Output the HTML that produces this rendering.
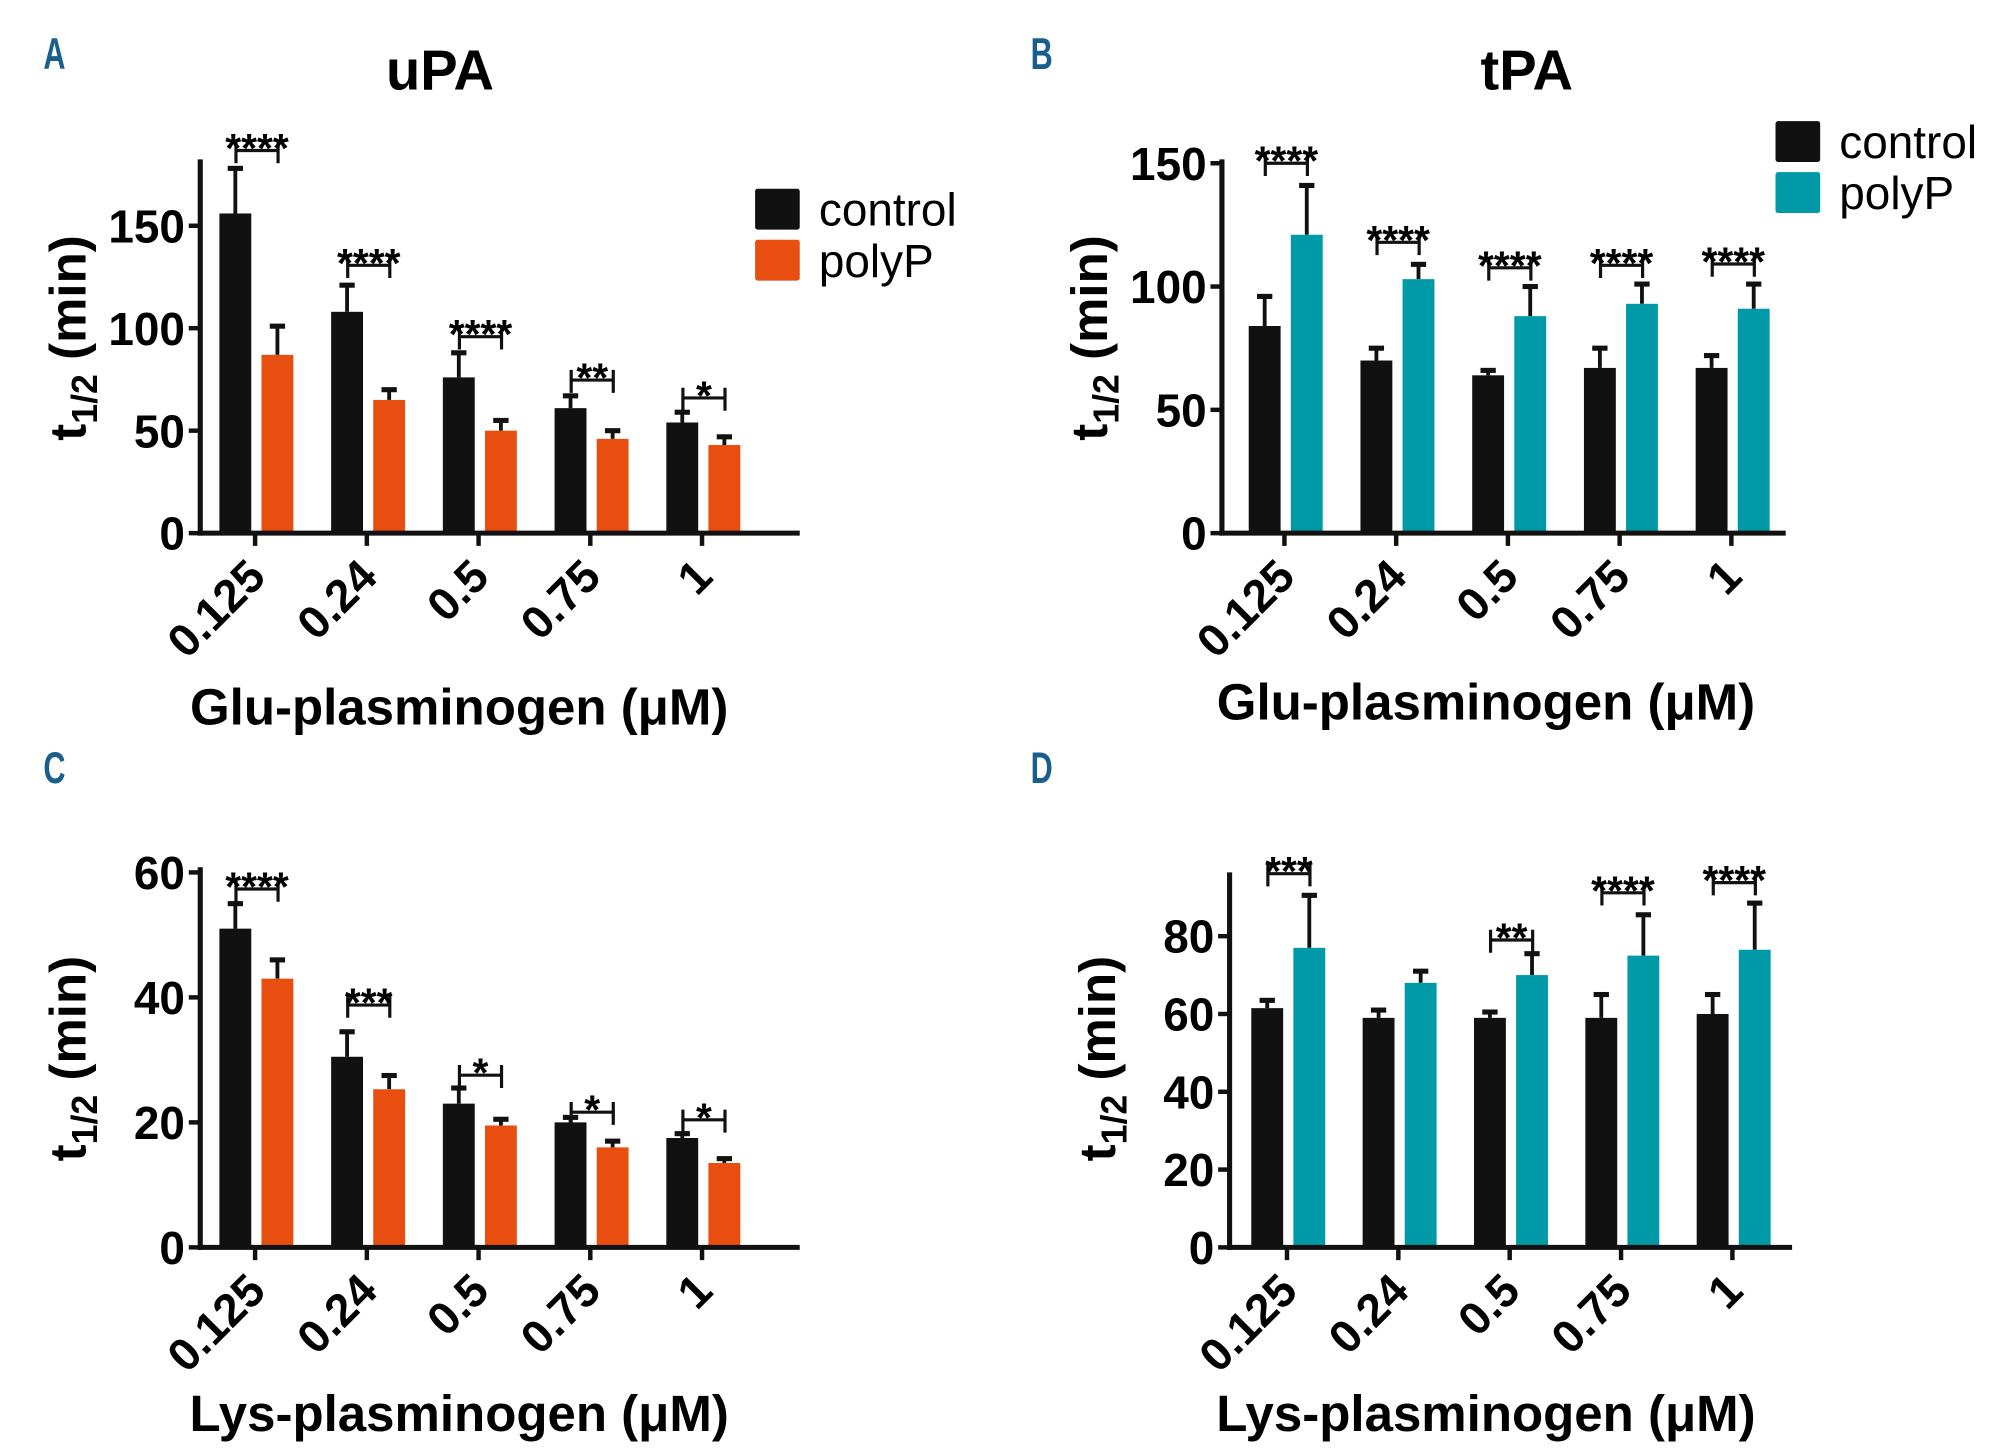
<!DOCTYPE html>
<html><head><meta charset="utf-8"><style>
html,body{margin:0;padding:0;background:#fff}
svg{display:block}
</style></head><body>
<svg id="fig" width="2000" height="1454" viewBox="0 0 1568 1140" preserveAspectRatio="none" xmlns="http://www.w3.org/2000/svg" font-family="Liberation Sans, sans-serif"></svg>
<script>
const categories = ["0.125","0.24","0.5","0.75","1"];
// Panel A (uPA, Glu)
const aControl = [156,108,76,61,54];
const aControlErr = [178,121,88,67,59];
const aPolyP = [87,65,50,46,43];
const aPolyPErr = [101,70,55,50,47];
const aSig = ["****","****","****","**","*"];
const aSigY = [118,208,264,298,312];
const aTicks = [0,50,100,150];
// Panel B (tPA, Glu)
const bControl = [84,70,64,67,67];
const bControlErr = [96,75,66,75,72];
const bPolyP = [121,103,88,93,91];
const bPolyPErr = [141,109,100,101,101];
const bSig = ["****","****","****","****","****"];
const bSigY = [128,190,210,208,207];
const bTicks = [0,50,100,150];
// Panel C (uPA, Lys)
const cControl = [51,30.5,23,20,17.5];
const cControlErr = [55,34.5,25.5,20.8,18.2];
const cPolyP = [43,25.3,19.5,16,13.5];
const cPolyPErr = [46,27.5,20.5,17,14.2];
const cSig = ["****","***","*","*","*"];
const cSigY = [697,788,843,872,878];
const cTicks = [0,20,40,60];
// Panel D (tPA, Lys)
const dControl = [61.5,59,59,59,60];
const dControlErr = [63.5,61,60.5,65,65];
const dPolyP = [77,68,70,75,76.5];
const dPolyPErr = [90.5,71,75.5,85.5,88.5];
const dSig = ["***","","**","****","****"];
const dSigY = [685,0,737,700,692];
const dTicks = [0,20,40,60,80];

const NS="http://www.w3.org/2000/svg";
const svg=document.getElementById('fig');
function mk(tag,attrs,parent,text){const e=document.createElementNS(NS,tag);for(const k in attrs)e.setAttribute(k,attrs[k]);if(text!==undefined)e.textContent=text;(parent||svg).appendChild(e);return e;}

function panel(p){
  const g=mk('g',{});
  
  
  const y=v=>p.y0-(v-p.vmin)*p.scale;
  const cx=i=>p.x0+p.c0+i*p.step;
  const L=mk('text',{x:p.lx,y:p.ly,'font-size':32,'font-weight':'bold',fill:'#1a5e8e',transform:`translate(${p.lx} ${p.ly}) scale(0.75 1.1) translate(${-p.lx} ${-p.ly})`},g,p.id);
  
  
  if(p.title){const t=mk('text',{x:p.tx,y:70,'font-size':44,'font-weight':'bold','text-anchor':'middle'},g,p.title);
    
    }
  for(let i=0;i<categories.length;i++){
    const c=cx(i);
    [[p.ctrl,p.ctrlErr,'#111',c-28],[p.pp,p.ppErr,p.color,c+5]].forEach((s,k)=>{
      const v=s[0][i],e=s[1][i],x=s[3];
      const ex=x+12.5;
      const el=mk('line',{x1:ex,x2:ex,y1:y(v),y2:y(e),stroke:'#111','stroke-width':3},g);
      
      
      mk('line',{x1:ex-6,x2:ex+6,y1:y(e),y2:y(e),stroke:'#111','stroke-width':4},g);
      const r=mk('rect',{x:x,y:y(v),width:25,height:p.y0-y(v),fill:s[2]},g);
      
      
    });
    if(p.sig[i]){
      const sy=p.sigY[i],x1=c-15,x2=c+18;
      const b=mk('path',{d:`M${x1} ${sy-8}V${sy+10}M${x1} ${sy}H${x2}M${x2} ${sy-8}V${sy+10}`,stroke:'#111','stroke-width':2.5,fill:'none'},g);
      
      
      const st=mk('text',{x:(x1+x2)/2,y:sy+9,'font-size':32,'font-weight':'bold','text-anchor':'middle'},g,p.sig[i]);
      
      
    }
    mk('line',{x1:c,x2:c,y1:p.y0,y2:p.y0+10,stroke:'#111','stroke-width':3.5},g);
    const tx=c+10,ty=p.y0+36;
    const tl=mk('text',{x:tx,y:ty,'font-size':36,'font-weight':'bold','text-anchor':'end',transform:`rotate(-45 ${tx} ${ty})`},g,categories[i]);
    
    
  }
  const ya=mk('line',{x1:p.x0,x2:p.x0,y1:p.top,y2:p.y0+2,stroke:'#111','stroke-width':4},g);
  
  
  const xa=mk('line',{x1:p.x0-2,x2:p.xend,y1:p.y0,y2:p.y0,stroke:'#111','stroke-width':4},g);
  
  
  p.ticks.forEach(t=>{
    mk('line',{x1:p.x0-9,x2:p.x0,y1:y(t),y2:y(t),stroke:'#111','stroke-width':3.5},g);
    const yl=mk('text',{x:p.x0-12,y:y(t)+13,'font-size':36,'font-weight':'bold','text-anchor':'end'},g,String(t));
    
    
  });
  const yt=mk('text',{x:0,y:0,'font-size':40,'font-weight':'bold','text-anchor':'middle',transform:`translate(${p.x0-90} ${p.ytY}) rotate(-90)`},g);
  
  
  mk('tspan',{},yt,'t');
  mk('tspan',{'font-size':28,dy:9},yt,'1/2');
  mk('tspan',{dy:-9},yt,' (min)');
  const xt=mk('text',{x:p.xtX,y:p.xtY,'font-size':40,'font-weight':'bold','text-anchor':'middle'},g,p.xtitle);
  
  
  if(p.leg){
    const lg=mk('g',{},g);
    
    
    [['control','#111'],['polyP',p.color]].forEach((e,k)=>{
      const ly=p.leg[1]+k*40;
      const sq=mk('rect',{x:p.leg[0],y:ly,width:35,height:32,fill:e[1],rx:2},lg);
      
      
      const lt=mk('text',{x:p.leg[0]+50,y:ly+29,'font-size':36},lg,e[0]);
      
      
    });
  }
}
panel({id:'A',title:'uPA',tx:345,lx:34,ly:54,x0:157,c0:43,step:87.6,y0:418,vmin:0,scale:(418-177)/150,top:125,xend:627,
  ctrl:aControl,ctrlErr:aControlErr,pp:aPolyP,ppErr:aPolyPErr,color:'#e84e10',sig:aSig,sigY:aSigY,ticks:aTicks,
  ytY:265,xtX:360,xtY:568,xtitle:'Glu-plasminogen (\u03bcM)',leg:[592,148]});
panel({id:'B',title:'tPA',tx:1197,lx:808,ly:54,x0:958,c0:49,step:87.6,y0:418,vmin:0,scale:(418-128)/150,top:125,xend:1400,
  ctrl:bControl,ctrlErr:bControlErr,pp:bPolyP,ppErr:bPolyPErr,color:'#0099a8',sig:bSig,sigY:bSigY,ticks:bTicks,
  ytY:265,xtX:1165,xtY:564,xtitle:'Glu-plasminogen (\u03bcM)',leg:[1392,95]});
panel({id:'C',lx:34,ly:614,x0:157,c0:43,step:87.6,y0:978,vmin:0,scale:(978-684)/60,top:680,xend:627,
  ctrl:cControl,ctrlErr:cControlErr,pp:cPolyP,ppErr:cPolyPErr,color:'#e84e10',sig:cSig,sigY:cSigY,ticks:cTicks,
  ytY:830,xtX:360,xtY:1122,xtitle:'Lys-plasminogen (\u03bcM)'});
panel({id:'D',lx:808,ly:614,x0:964,c0:45,step:87.3,y0:978,vmin:0,scale:(978-734)/80,top:684,xend:1405,
  ctrl:dControl,ctrlErr:dControlErr,pp:dPolyP,ppErr:dPolyPErr,color:'#0099a8',sig:dSig,sigY:dSigY,ticks:dTicks,
  ytY:830,xtX:1165,xtY:1122,xtitle:'Lys-plasminogen (\u03bcM)'});
</script>
</body></html>
